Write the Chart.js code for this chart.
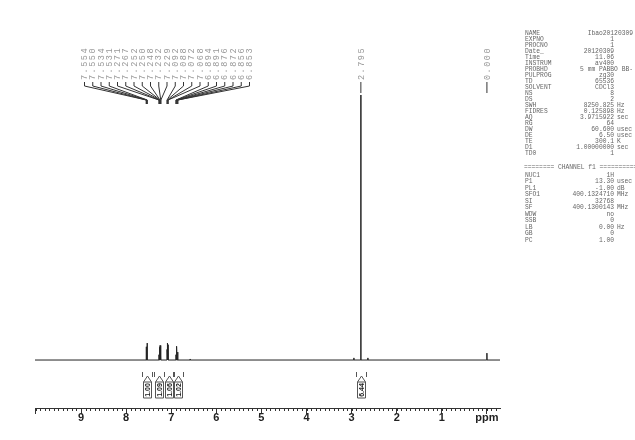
<!DOCTYPE html>
<html>
<head>
<meta charset="utf-8">
<script src="https://cdn.jsdelivr.net/npm/chart.js@4.4.1/dist/chart.umd.min.js"></script>
<style>
  html, body { margin: 0; padding: 0; background: #fff; }
  #wrap { width: 635px; height: 440px; position: relative; }
</style>
</head>
<body>
<div id="wrap"><canvas id="nmr"></canvas></div>
<script>
// spectrum lines (ppm) and their heights relative to the 2.795 singlet
const peakPpm = [7.554, 7.550, 7.534, 7.531,
  7.271, 7.267, 7.252, 7.250, 7.248, 7.232, 7.229,
  7.092, 7.088, 7.072, 7.068,
  6.894, 6.891, 6.876, 6.872, 6.856, 6.853,
  6.58, 2.95, 2.795, 2.64, 0.000]
const peakHeight = [0.045, 0.05, 0.064, 0.058,
  0.02, 0.022, 0.035, 0.048, 0.055, 0.03, 0.03,
  0.04, 0.045, 0.064, 0.058,
  0.02, 0.022, 0.045, 0.052, 0.03, 0.03,
  0.004, 0.008, 1.0, 0.008, 0.026]

// labelled shifts
const labelPpm = [7.554, 7.550, 7.534, 7.531, 7.271, 7.267, 7.252, 7.250, 7.248, 7.232, 7.229,
  7.092, 7.088, 7.072, 7.068, 6.894, 6.891, 6.876, 6.872, 6.856, 6.853]
const singleLabels = [2.795, 0.000]

// integrals
const integralFrom = [7.60, 7.33, 7.12, 6.92, 2.88]
const integralTo = [7.48, 7.20, 7.00, 6.80, 2.70]
const integralValue = ['1.00', '1.09', '1.06', '1.02', '6.44']

const majorTicks = [0, 1, 2, 3, 4, 5, 6, 7, 8, 9, 10]

const params = [
  ['NAME', 'Ibao20120309', ''], ['EXPNO', '1', ''], ['PROCNO', '1', ''],
  ['Date_', '20120309', ''], ['Time', '11.06', ''], ['INSTRUM', 'av400', ''],
  ['PROBHD', '5 mm PABBO BB-', ''], ['PULPROG', 'zg30', ''], ['TD', '65536', ''],
  ['SOLVENT', 'CDCl3', ''], ['NS', '8', ''], ['DS', '2', ''],
  ['SWH', '8250.825', 'Hz'], ['FIDRES', '0.125898', 'Hz'], ['AQ', '3.9715922', 'sec'],
  ['RG', '64', ''], ['DW', '60.600', 'usec'], ['DE', '6.50', 'usec'],
  ['TE', '300.1', 'K'], ['D1', '1.00000000', 'sec'], ['TD0', '1', '']
]
const channel = [
  ['NUC1', '1H', ''], ['P1', '13.30', 'usec'], ['PL1', '-1.00', 'dB'],
  ['SFO1', '400.1324710', 'MHz'], ['SI', '32768', ''], ['SF', '400.1300143', 'MHz'],
  ['WDW', 'no', ''], ['SSB', '0', ''], ['LB', '0.00', 'Hz'], ['GB', '0', ''], ['PC', '1.00', '']
]

// build the trace: baseline with narrow sticks at each line
const trace = [{ x: 10.02, y: 0 }]
const order = peakPpm.map((p, i) => i).sort((a, b) => peakPpm[b] - peakPpm[a])
order.forEach(i => {
  trace.push({ x: peakPpm[i] + 0.002, y: 0 })
  trace.push({ x: peakPpm[i], y: peakHeight[i] })
  trace.push({ x: peakPpm[i] - 0.002, y: 0 })
})
trace.push({ x: -0.29, y: 0 })

const decor = {
  id: 'decor',
  afterDraw(chart) {
    const c = chart.ctx
    const xs = chart.scales.x
    const area = chart.chartArea
    c.save()

    // minor ticks every 0.1 ppm
    c.strokeStyle = '#333'
    c.lineWidth = 1
    c.beginPath()
    for (let k = -2; k <= 100; k++) {
      const px = Math.round(xs.getPixelForValue(k / 10)) + 0.5
      c.moveTo(px, area.bottom)
      c.lineTo(px, area.bottom + 3)
    }
    c.stroke()

    // peak labels with fan leaders
    c.font = '8.5px "Liberation Mono", "DejaVu Sans Mono", monospace'
    c.letterSpacing = '1.5px'
    c.fillStyle = '#999'
    c.strokeStyle = '#333'
    labelPpm.forEach((p, i) => {
      const lx = 84 + i * 8.25
      const px = xs.getPixelForValue(p)
      c.save()
      c.translate(lx + 3, 80)
      c.rotate(-Math.PI / 2)
      c.textAlign = 'left'
      c.fillText(p.toFixed(3), 0, 0)
      c.restore()
      c.beginPath()
      c.moveTo(lx + 0.5, 82)
      c.lineTo(lx + 0.5, 86)
      c.lineTo(px, 100)
      c.lineTo(px, 104)
      c.stroke()
    })
    singleLabels.forEach(p => {
      const px = xs.getPixelForValue(p)
      c.save()
      c.translate(px + 3, 80)
      c.rotate(-Math.PI / 2)
      c.fillText(p.toFixed(3), 0, 0)
      c.restore()
      c.beginPath()
      c.moveTo(px, 82)
      c.lineTo(px, 93)
      c.stroke()
    })
    c.letterSpacing = '0px'

    // integral brackets
    c.font = 'bold 7px "Liberation Sans", Arial, sans-serif'
    integralValue.forEach((v, i) => {
      const a = xs.getPixelForValue(integralFrom[i])
      const b = xs.getPixelForValue(integralTo[i])
      const m = Math.round((a + b) / 2) + 0.5
      c.strokeStyle = '#555'
      c.beginPath()
      c.moveTo(m - 5, 372); c.lineTo(m - 5, 377)
      c.moveTo(m + 5, 372); c.lineTo(m + 5, 377)
      c.moveTo(m - 4, 382); c.lineTo(m, 376); c.lineTo(m + 4, 382)
      c.rect(m - 4, 382, 8, 16)
      c.stroke()
      c.save()
      c.translate(m + 2.5, 390)
      c.rotate(-Math.PI / 2)
      c.textAlign = 'center'
      c.fillStyle = '#222'
      c.fillText(v, 0, 0)
      c.restore()
    })

    // acquisition parameters
    c.font = '6.3px "Liberation Mono", "DejaVu Sans Mono", monospace'
    c.fillStyle = '#666'
    c.textBaseline = 'middle'
    const wide = ['NAME', 'PROBHD']
    params.forEach((r, i) => {
      const y = 33 + i * 6.0
      c.textAlign = 'left'
      c.fillText(r[0], 525, y)
      c.textAlign = 'right'
      c.fillText(r[1], wide.includes(r[0]) ? 633 : 614, y)
      c.textAlign = 'left'
      c.fillText(r[2], 617, y)
    })
    c.textAlign = 'left'
    c.fillText('======== CHANNEL f1 ==========', 524, 167)
    channel.forEach((r, i) => {
      const y = 175 + i * 6.5
      c.textAlign = 'left'
      c.fillText(r[0], 525, y)
      c.textAlign = 'right'
      c.fillText(r[1], 614, y)
      c.textAlign = 'left'
      c.fillText(r[2], 617, y)
    })
    c.restore()
  }
}

new Chart(document.getElementById('nmr'), {
  type: 'scatter',
  data: {
    datasets: [{
      data: trace,
      showLine: true,
      borderColor: '#222',
      borderWidth: 1,
      pointRadius: 0,
      tension: 0
    }]
  },
  options: {
    responsive: true,
    maintainAspectRatio: false,
    animation: false,
    layout: { padding: { left: 35, right: 135, top: 95, bottom: 0 } },
    plugins: { legend: { display: false }, tooltip: { enabled: false } },
    scales: {
      x: {
        type: 'linear',
        reverse: true,
        min: -0.29,
        max: 10.02,
        afterBuildTicks: s => { s.ticks = majorTicks.map(v => ({ value: v })) },
        afterFit: s => { s.height = 32 },
        border: { display: true, color: '#333', width: 1 },
        grid: { display: true, drawOnChartArea: false, drawTicks: true, tickLength: 6, color: '#333' },
        ticks: {
          padding: -3,
          maxRotation: 0,
          autoSkip: false,
          color: '#222',
          font: { family: '"Liberation Sans", Arial, sans-serif', size: 11, weight: 'bold' },
          callback: v => v === 0 ? 'ppm' : (v === 10 ? '' : String(v))
        }
      },
      y: {
        display: false,
        min: -0.181,
        max: 1.0
      }
    }
  },
  plugins: [decor]
});
</script>
</body>
</html>
